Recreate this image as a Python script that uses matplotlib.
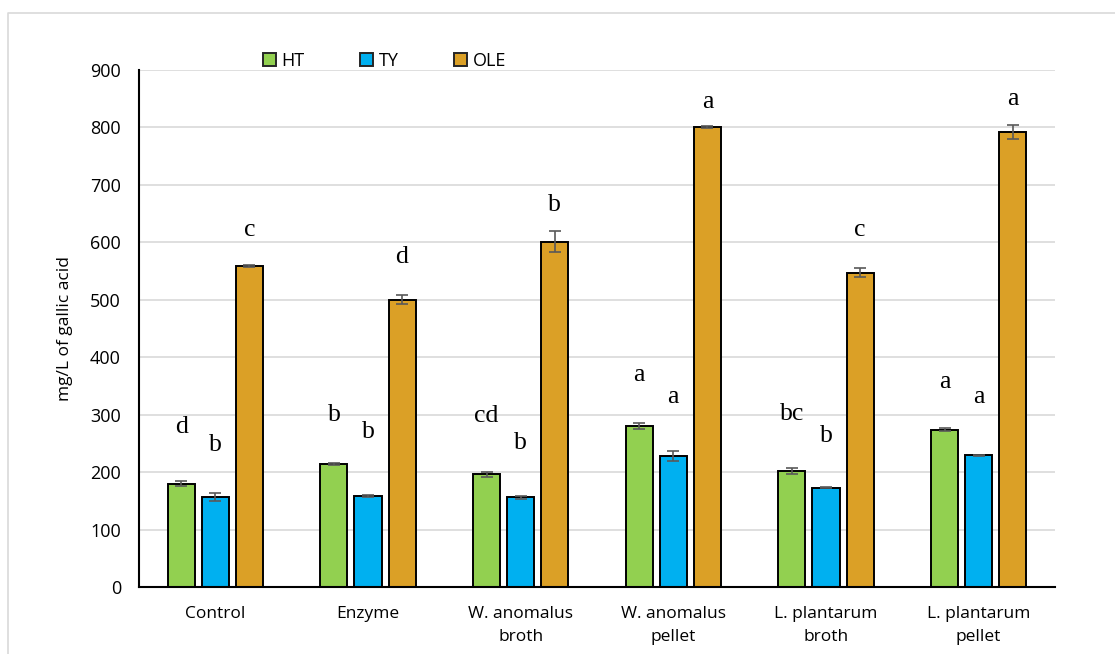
import numpy as np
import matplotlib.pyplot as plt
from matplotlib.patches import Patch
from matplotlib.lines import Line2D

categories = ["Control", "Enzyme", "W. anomalus\nbroth", "W. anomalus\npellet",
              "L. plantarum\nbroth", "L. plantarum\npellet"]
series = ["HT", "TY", "OLE"]

ht = [180, 214, 196, 280, 202, 274]
ty = [156, 159, 156, 228, 173, 229]
ole = [559, 500, 601, 801, 547, 792]

ht_err = [5, 2, 5, 5, 5, 3]
ty_err = [7, 2, 2, 8, 1, 1]
ole_err = [2, 8, 18, 2, 8, 12]

# significance letters and the height (in mg/L) where they are printed
ht_letters = ["d", "b", "cd", "a", "bc", "a"]
ty_letters = ["b", "b", "b", "a", "b", "a"]
ole_letters = ["c", "d", "b", "a", "c", "a"]
ht_letter_y = [279, 299, 298, 369, 302, 357]
ty_letter_y = [247, 269, 251, 331, 262, 330]
ole_letter_y = [621, 575, 665, 845, 621, 850]

colors = ["#92D050", "#00B0F0", "#DBA026"]

plt.rcParams['font.family'] = ['Open Sans', 'DejaVu Sans']

fig = plt.figure(figsize=(11.15, 6.54), dpi=100)
ax = fig.add_axes([139 / 1115, 1 - 587 / 654, (1055 - 139) / 1115, (587 - 70) / 654])

x = np.arange(len(categories))
width = 0.177
step = 0.223

values = [ht, ty, ole]
errors = [ht_err, ty_err, ole_err]
letters = [ht_letters, ty_letters, ole_letters]
letter_y = [ht_letter_y, ty_letter_y, ole_letter_y]

for i in range(3):
    pos = x + (i - 1) * step
    ax.bar(pos, values[i], width, color=colors[i], edgecolor='black', linewidth=1.4,
           zorder=3, label=series[i])
    ax.errorbar(pos, values[i], yerr=errors[i], fmt='none', ecolor='#595959',
                elinewidth=1.2, capsize=4, capthick=1.2, zorder=4)
    for xp, lab, ly in zip(pos, letters[i], letter_y[i]):
        ax.text(xp, ly, lab, ha='center', va='center', fontsize=18.5,
                family='Liberation Serif', color='black')

ax.set_xlim(-0.5, len(categories) - 0.5)
ax.set_ylim(0, 900)
ax.set_yticks(range(0, 901, 100))
ax.set_xticks(x)
ax.set_xticklabels(categories, fontsize=12.5, linespacing=1.55)
ax.tick_params(axis='y', length=0, pad=13, labelsize=13)
ax.tick_params(axis='x', length=0, pad=14)
ax.grid(axis='y', color='#D9D9D9', linewidth=1.2, zorder=0)
ax.set_axisbelow(True)

for s in ['top', 'right']:
    ax.spines[s].set_visible(False)
for s in ['left', 'bottom']:
    ax.spines[s].set_color('black')
    ax.spines[s].set_linewidth(1.5)
    ax.spines[s].set_zorder(5)

ax.set_ylabel("mg/L of gallic acid", fontsize=12.5)
ax.yaxis.set_label_coords(-0.072, 0.5)

handles = [Patch(facecolor=c, edgecolor='#262626', linewidth=1.4) for c in colors]
fig.legend(handles, series, loc='center left', bbox_to_anchor=(250 / 1115, 1 - 61 / 654),
           ncol=3, frameon=False, fontsize=13, handlelength=0.72, handleheight=0.72,
           handletextpad=0.3, columnspacing=3.1, borderpad=0.2)

# light frame around the chart area (Excel chart border)
fig.add_artist(Line2D([8 / 1115, 8 / 1115, 1.0], [0.0, 1 - 13 / 654, 1 - 13 / 654],
                      transform=fig.transFigure, color='#D9D9D9', linewidth=1.2))

fig.savefig("out.png", dpi=100)
